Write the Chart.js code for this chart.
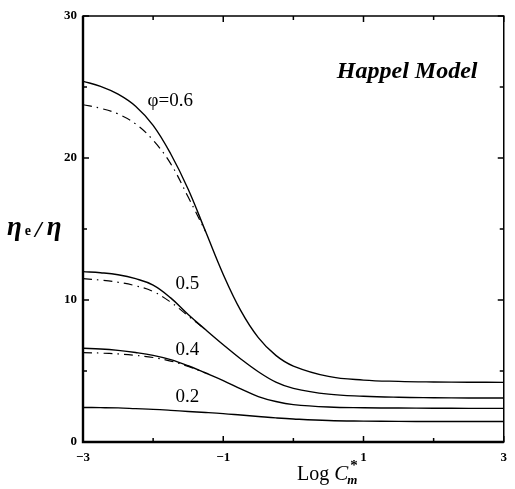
<!DOCTYPE html>
<html>
<head>
<meta charset="utf-8">
<script src="https://cdn.jsdelivr.net/npm/chart.js@4/dist/chart.umd.min.js"></script>
<style>
  html, body { margin: 0; padding: 0; background: #fff; }
  #wrap { width: 515px; height: 489px; }
</style>
</head>
<body>
<div id="wrap"><canvas id="c" width="515" height="489"></canvas></div>
<script>
// log of the dimensionless concentration C_m*
const logC = [-3, -2.75, -2.5, -2.25, -2, -1.75, -1.5, -1.25, -1, -0.75, -0.5, -0.25, 0, 0.5, 1, 1.5, 2, 2.5, 3];

// effective viscosity ratio, Happel cell model (solid curves)
const phi06 = [25.4, 25.05, 24.5, 23.65, 22.3, 20.3, 17.8, 14.8, 11.8, 9.25, 7.35, 6.1, 5.35, 4.62, 4.36, 4.27, 4.23, 4.21, 4.2];
const phi05 = [12.0, 11.92, 11.78, 11.5, 11.05, 10.15, 8.98, 7.9, 6.85, 5.85, 4.95, 4.22, 3.78, 3.37, 3.22, 3.15, 3.12, 3.1, 3.1];
const phi04 = [6.6, 6.55, 6.45, 6.3, 6.1, 5.8, 5.37, 4.86, 4.33, 3.74, 3.2, 2.85, 2.63, 2.46, 2.41, 2.39, 2.38, 2.37, 2.37];
const phi02 = [2.43, 2.42, 2.4, 2.35, 2.3, 2.23, 2.15, 2.08, 2.0, 1.9, 1.8, 1.7, 1.62, 1.51, 1.47, 1.45, 1.44, 1.44, 1.44];

// approximate solution (dash-dot curves), low-concentration branch only
const logCApprox = [-3, -2.75, -2.5, -2.25, -2, -1.75, -1.5, -1.25];
const phi06Approx = [23.75, 23.5, 23.1, 22.4, 21.25, 19.6, 17.25, 14.8];
const phi05Approx = [11.5, 11.4, 11.25, 11.0, 10.6, 9.85, 8.88, 7.9];
const phi04Approx = [6.3, 6.26, 6.2, 6.1, 5.95, 5.7, 5.32, 4.86];

// curve labels and their anchor positions in data units
const curveLabels = ['\u03C6=0.6', '0.5', '0.4', '0.2'];
const labelX = [-2.08, -1.68, -1.68, -1.68];
const labelY = [24.0, 11.1, 6.5, 3.2];

const xTicksShown = [-3, -1, 1, 3];
const yTicksShown = [0, 10, 20, 30];

const pts = (xs, ys) => xs.map((x, i) => ({ x: x, y: ys[i] }));

const solid = (data) => ({
  data: data, borderColor: '#000', borderWidth: 1.4, pointRadius: 0,
  tension: 0.4, fill: false
});
const dashDot = (data) => ({
  data: data, borderColor: '#000', borderWidth: 1.2, pointRadius: 0,
  borderDash: [9, 5, 1.5, 5], tension: 0.4, fill: false
});

const serif = '"Liberation Serif", "Times New Roman", serif';

// frame, inward ticks on all four sides, titles and curve labels
const decorations = {
  id: 'decorations',
  afterDraw(chart) {
    const ctx = chart.ctx;
    const a = chart.chartArea;
    const xs = chart.scales.x, ys = chart.scales.y;
    ctx.save();
    ctx.strokeStyle = '#000';
    ctx.fillStyle = '#000';

    // frame
    ctx.lineWidth = 1.5;
    ctx.strokeRect(a.left, a.top, a.right - a.left, a.bottom - a.top);
    ctx.lineWidth = 2.4;
    ctx.beginPath();
    ctx.moveTo(a.left, a.top); ctx.lineTo(a.left, a.bottom); ctx.lineTo(a.right, a.bottom);
    ctx.stroke();

    // ticks
    ctx.lineWidth = 1.5;
    xs.ticks.forEach(t => {
      const px = xs.getPixelForValue(t.value);
      const len = xTicksShown.includes(t.value) ? 6 : 4;
      ctx.beginPath();
      ctx.moveTo(px, a.bottom); ctx.lineTo(px, a.bottom - len);
      ctx.moveTo(px, a.top); ctx.lineTo(px, a.top + len);
      ctx.stroke();
    });
    ys.ticks.forEach(t => {
      const py = ys.getPixelForValue(t.value);
      const len = yTicksShown.includes(t.value) ? 6 : 4;
      ctx.beginPath();
      ctx.moveTo(a.left, py); ctx.lineTo(a.left + len, py);
      ctx.moveTo(a.right, py); ctx.lineTo(a.right - len, py);
      ctx.stroke();
    });

    // curve labels
    ctx.textBaseline = 'middle';
    ctx.textAlign = 'left';
    ctx.font = '19px ' + serif;
    curveLabels.forEach((s, i) => {
      ctx.fillText(s, xs.getPixelForValue(labelX[i]), ys.getPixelForValue(labelY[i]));
    });

    // model name
    ctx.font = 'italic bold 24px ' + serif;
    ctx.fillText('Happel Model', xs.getPixelForValue(0.62), ys.getPixelForValue(26.1));

    // y title: eta_e / eta
    ctx.textBaseline = 'alphabetic';
    let x = 7;
    const yb = 235;
    ctx.font = 'italic bold 27px ' + serif;
    ctx.fillText('\u03B7', x, yb); x += ctx.measureText('\u03B7').width + 3;
    ctx.font = 'bold 14px ' + serif;
    ctx.fillText('e', x, yb); x += ctx.measureText('e').width + 4;
    ctx.font = 'italic bold 24px ' + serif;
    ctx.fillText('/', x, yb + 2); x += ctx.measureText('/').width + 5;
    ctx.font = 'italic bold 27px ' + serif;
    ctx.fillText('\u03B7', x, yb);

    // x title: Log C_m*
    x = 297;
    const xb = 480;
    ctx.font = '20px ' + serif;
    ctx.fillText('Log ', x, xb); x += ctx.measureText('Log ').width;
    ctx.font = 'italic 21px ' + serif;
    ctx.fillText('C', x, xb); x += ctx.measureText('C').width;
    ctx.font = 'italic bold 13px ' + serif;
    ctx.fillText('m', x - 1, xb + 4);
    ctx.font = 'bold 15px ' + serif;
    ctx.fillText('*', x + 2, xb - 10);

    ctx.restore();
  }
};

new Chart(document.getElementById('c'), {
  type: 'line',
  data: {
    datasets: [
      solid(pts(logC, phi06)),
      solid(pts(logC, phi05)),
      solid(pts(logC, phi04)),
      solid(pts(logC, phi02)),
      dashDot(pts(logCApprox, phi06Approx)),
      dashDot(pts(logCApprox, phi05Approx)),
      dashDot(pts(logCApprox, phi04Approx))
    ]
  },
  options: {
    responsive: false,
    animation: false,
    events: [],
    layout: { padding: { top: 16, right: 6, bottom: 0, left: 0 } },
    plugins: { legend: { display: false }, tooltip: { enabled: false } },
    scales: {
      x: {
        type: 'linear', min: -3, max: 3,
        grid: { display: false, drawTicks: false },
        border: { display: false },
        afterFit(s) { s.height = 47; },
        ticks: {
          stepSize: 1, autoSkip: false, maxRotation: 0, padding: 8, color: '#000',
          font: { family: serif, size: 13, weight: 'bold' },
          callback: v => xTicksShown.includes(v) ? (v < 0 ? '\u2212' + Math.abs(v) : String(v)) : ''
        }
      },
      y: {
        min: 0, max: 30,
        grid: { display: false, drawTicks: false },
        border: { display: false },
        afterFit(s) { s.width = 83; },
        ticks: {
          stepSize: 5, padding: 6, color: '#000',
          font: { family: serif, size: 13, weight: 'bold' },
          callback: v => yTicksShown.includes(v) ? String(v) : ''
        }
      }
    }
  },
  plugins: [decorations]
});
</script>
</body>
</html>
